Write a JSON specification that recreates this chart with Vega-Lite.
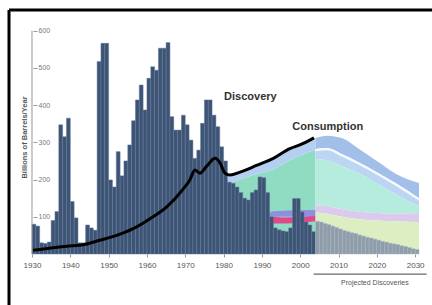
{
  "$schema": "https://vega.github.io/schema/vega-lite/v6.json",
  "width": 423,
  "height": 295,
  "autosize": {"type": "none"},
  "padding": {"left": 9, "top": 10, "right": 0, "bottom": 0},
  "background": "white",
  "config": {
    "view": {"stroke": null},
    "font": "Liberation Sans",
    "scale": {"continuousPadding": 0},
    "axis": {"domain": false, "grid": false},
    "axisX": {"domain": false, "grid": false},
    "axisY": {"domain": false, "grid": false}
  },
  "datasets": {
    "bands": [
      {"year": 1980.5, "band": "hist_green", "lo": 0, "hi": 200},
      {"year": 1981, "band": "hist_green", "lo": 0, "hi": 190},
      {"year": 1984, "band": "hist_green", "lo": 0, "hi": 199},
      {"year": 1988, "band": "hist_green", "lo": 0, "hi": 213},
      {"year": 1993, "band": "hist_green", "lo": 0, "hi": 228},
      {"year": 1997, "band": "hist_green", "lo": 0, "hi": 250},
      {"year": 2000, "band": "hist_green", "lo": 0, "hi": 264},
      {"year": 2004, "band": "hist_green", "lo": 0, "hi": 280},
      {"year": 1980.5, "band": "hist_pale", "lo": 200, "hi": 216},
      {"year": 1981, "band": "hist_pale", "lo": 190, "hi": 214},
      {"year": 1984, "band": "hist_pale", "lo": 199, "hi": 220},
      {"year": 1988, "band": "hist_pale", "lo": 213, "hi": 236},
      {"year": 1993, "band": "hist_pale", "lo": 228, "hi": 257},
      {"year": 1997, "band": "hist_pale", "lo": 250, "hi": 282},
      {"year": 2000, "band": "hist_pale", "lo": 264, "hi": 294},
      {"year": 2004, "band": "hist_pale", "lo": 280, "hi": 312},
      {"year": 1990.5, "band": "hist_pink", "lo": 85, "hi": 85},
      {"year": 1992, "band": "hist_pink", "lo": 82, "hi": 100},
      {"year": 1996, "band": "hist_pink", "lo": 82, "hi": 98},
      {"year": 2000, "band": "hist_pink", "lo": 84, "hi": 100},
      {"year": 2004, "band": "hist_pink", "lo": 88, "hi": 102},
      {"year": 1991, "band": "hist_violet", "lo": 100, "hi": 100},
      {"year": 1993, "band": "hist_violet", "lo": 100, "hi": 115},
      {"year": 2004, "band": "hist_violet", "lo": 102, "hi": 118},
      {"year": 2004, "band": "p1", "lo": 282, "hi": 312},
      {"year": 2007, "band": "p1", "lo": 285, "hi": 318},
      {"year": 2011, "band": "p1", "lo": 268, "hi": 311},
      {"year": 2015, "band": "p1", "lo": 248, "hi": 285},
      {"year": 2020, "band": "p1", "lo": 220, "hi": 250},
      {"year": 2025, "band": "p1", "lo": 190, "hi": 215},
      {"year": 2031, "band": "p1", "lo": 150, "hi": 191},
      {"year": 2004, "band": "p2", "lo": 276, "hi": 282},
      {"year": 2007, "band": "p2", "lo": 279, "hi": 285},
      {"year": 2011, "band": "p2", "lo": 261, "hi": 268},
      {"year": 2015, "band": "p2", "lo": 241, "hi": 248},
      {"year": 2020, "band": "p2", "lo": 213, "hi": 220},
      {"year": 2025, "band": "p2", "lo": 183, "hi": 190},
      {"year": 2031, "band": "p2", "lo": 143, "hi": 150},
      {"year": 2004, "band": "p3", "lo": 255, "hi": 276},
      {"year": 2007, "band": "p3", "lo": 252, "hi": 279},
      {"year": 2011, "band": "p3", "lo": 236, "hi": 261},
      {"year": 2015, "band": "p3", "lo": 218, "hi": 241},
      {"year": 2020, "band": "p3", "lo": 190, "hi": 213},
      {"year": 2025, "band": "p3", "lo": 160, "hi": 183},
      {"year": 2031, "band": "p3", "lo": 128, "hi": 143},
      {"year": 2004, "band": "p4", "lo": 132, "hi": 255},
      {"year": 2007, "band": "p4", "lo": 128, "hi": 252},
      {"year": 2011, "band": "p4", "lo": 120, "hi": 236},
      {"year": 2015, "band": "p4", "lo": 114, "hi": 218},
      {"year": 2020, "band": "p4", "lo": 110, "hi": 190},
      {"year": 2025, "band": "p4", "lo": 108, "hi": 160},
      {"year": 2031, "band": "p4", "lo": 110, "hi": 128},
      {"year": 2004, "band": "p5", "lo": 112, "hi": 132},
      {"year": 2007, "band": "p5", "lo": 108, "hi": 128},
      {"year": 2011, "band": "p5", "lo": 100, "hi": 120},
      {"year": 2015, "band": "p5", "lo": 94, "hi": 114},
      {"year": 2020, "band": "p5", "lo": 90, "hi": 110},
      {"year": 2025, "band": "p5", "lo": 88, "hi": 108},
      {"year": 2031, "band": "p5", "lo": 86, "hi": 110},
      {"year": 2004, "band": "p6", "lo": 0, "hi": 112},
      {"year": 2007, "band": "p6", "lo": 0, "hi": 108},
      {"year": 2011, "band": "p6", "lo": 0, "hi": 100},
      {"year": 2015, "band": "p6", "lo": 0, "hi": 94},
      {"year": 2020, "band": "p6", "lo": 0, "hi": 90},
      {"year": 2025, "band": "p6", "lo": 0, "hi": 88},
      {"year": 2031, "band": "p6", "lo": 0, "hi": 86}
    ],
    "discovery": [
      {"year": 1930, "value": 80}, {"year": 1931, "value": 75}, {"year": 1932, "value": 30},
      {"year": 1933, "value": 28}, {"year": 1934, "value": 32}, {"year": 1935, "value": 90},
      {"year": 1936, "value": 114}, {"year": 1937, "value": 347}, {"year": 1938, "value": 315},
      {"year": 1939, "value": 365}, {"year": 1940, "value": 141}, {"year": 1941, "value": 97},
      {"year": 1942, "value": 30}, {"year": 1943, "value": 30}, {"year": 1944, "value": 78},
      {"year": 1945, "value": 70}, {"year": 1946, "value": 64}, {"year": 1947, "value": 517},
      {"year": 1948, "value": 566}, {"year": 1949, "value": 566}, {"year": 1950, "value": 199},
      {"year": 1951, "value": 180}, {"year": 1952, "value": 275}, {"year": 1953, "value": 210},
      {"year": 1954, "value": 250}, {"year": 1955, "value": 293}, {"year": 1956, "value": 358},
      {"year": 1957, "value": 414}, {"year": 1958, "value": 454}, {"year": 1959, "value": 387},
      {"year": 1960, "value": 472}, {"year": 1961, "value": 503}, {"year": 1962, "value": 494},
      {"year": 1963, "value": 553}, {"year": 1964, "value": 553}, {"year": 1965, "value": 568},
      {"year": 1966, "value": 369}, {"year": 1967, "value": 333}, {"year": 1968, "value": 333},
      {"year": 1969, "value": 373}, {"year": 1970, "value": 347}, {"year": 1971, "value": 306},
      {"year": 1972, "value": 257}, {"year": 1973, "value": 279}, {"year": 1974, "value": 351},
      {"year": 1975, "value": 414}, {"year": 1976, "value": 414}, {"year": 1977, "value": 373},
      {"year": 1978, "value": 342}, {"year": 1979, "value": 288}, {"year": 1980, "value": 250},
      {"year": 1981, "value": 193}, {"year": 1982, "value": 190}, {"year": 1983, "value": 180},
      {"year": 1984, "value": 165}, {"year": 1985, "value": 150}, {"year": 1986, "value": 145},
      {"year": 1987, "value": 165}, {"year": 1988, "value": 172}, {"year": 1989, "value": 207},
      {"year": 1990, "value": 205}, {"year": 1991, "value": 165}, {"year": 1992, "value": 100},
      {"year": 1993, "value": 70}, {"year": 1994, "value": 65}, {"year": 1995, "value": 62},
      {"year": 1996, "value": 60}, {"year": 1997, "value": 70}, {"year": 1998, "value": 149},
      {"year": 1999, "value": 149}, {"year": 2000, "value": 113}, {"year": 2001, "value": 86},
      {"year": 2002, "value": 78}, {"year": 2003, "value": 60}
    ],
    "projected": [
      {"year": 2004, "value": 88}, {"year": 2005, "value": 86}, {"year": 2006, "value": 82},
      {"year": 2007, "value": 79}, {"year": 2008, "value": 75}, {"year": 2009, "value": 71},
      {"year": 2010, "value": 67}, {"year": 2011, "value": 63}, {"year": 2012, "value": 60},
      {"year": 2013, "value": 57}, {"year": 2014, "value": 55}, {"year": 2015, "value": 51},
      {"year": 2016, "value": 48}, {"year": 2017, "value": 45}, {"year": 2018, "value": 43},
      {"year": 2019, "value": 40}, {"year": 2020, "value": 37}, {"year": 2021, "value": 34},
      {"year": 2022, "value": 32}, {"year": 2023, "value": 29}, {"year": 2024, "value": 27},
      {"year": 2025, "value": 25}, {"year": 2026, "value": 22}, {"year": 2027, "value": 20},
      {"year": 2028, "value": 17}, {"year": 2029, "value": 14}, {"year": 2030, "value": 12}
    ],
    "consumption": [
      {"year": 1930.3, "value": 10}, {"year": 1935, "value": 16}, {"year": 1939, "value": 21},
      {"year": 1943.4, "value": 25}, {"year": 1947.7, "value": 37}, {"year": 1952.1, "value": 50},
      {"year": 1956.4, "value": 68}, {"year": 1960.8, "value": 95}, {"year": 1965.1, "value": 126},
      {"year": 1969.5, "value": 175}, {"year": 1971.2, "value": 199}, {"year": 1972.5, "value": 226},
      {"year": 1973.8, "value": 217}, {"year": 1975.6, "value": 236}, {"year": 1977.8, "value": 257},
      {"year": 1979.1, "value": 244}, {"year": 1980.4, "value": 217}, {"year": 1981.7, "value": 212},
      {"year": 1984.3, "value": 220}, {"year": 1988.6, "value": 238}, {"year": 1993, "value": 257},
      {"year": 1997.3, "value": 283}, {"year": 1999.9, "value": 293}, {"year": 2002.9, "value": 308},
      {"year": 2003.6, "value": 312}
    ],
    "labels": [
      {"text": "Discovery", "year": 1987.0, "value": 422},
      {"text": "Consumption", "year": 2007.2, "value": 341}
    ]
  },
  "layer": [
    {
      "data": {"name": "bands"},
      "mark": {"type": "area", "interpolate": "monotone"},
      "encoding": {
        "x": {
          "field": "year", "type": "quantitative",
          "scale": {"domain": [1924, 2034.4], "nice": false, "zero": false, "padding": 0},
          "axis": {
            "orient": "bottom", "offset": -51, "domain": false, "grid": false,
            "values": [1930, 1940, 1950, 1960, 1970, 1980, 1990, 2000, 2010, 2020, 2030],
            "format": "d", "tickSize": 3, "tickColor": "#999999",
            "labelFontSize": 8, "labelColor": "#555555", "labelPadding": 4, "title": null
          }
        },
        "y": {
          "field": "hi", "type": "quantitative",
          "scale": {"domain": [-137, 655.6], "nice": false, "zero": false, "padding": 0},
          "axis": {
            "orient": "right", "offset": -399, "domain": false, "grid": false,
            "values": [100, 200, 300, 400, 500, 600],
            "tickSize": 4, "tickColor": "#999999", "labelPadding": 1,
            "labelFontSize": 7, "labelColor": "#777777",
            "title": "Billions of Barrels/Year", "titleAngle": 270, "titleX": -9, "titleY": 127,
            "titleAlign": "center", "titleBaseline": "middle",
            "titleFontSize": 7.5, "titleColor": "#555555", "titleFontWeight": "bold"
          }
        },
        "y2": {"field": "lo"},
        "color": {
          "field": "band", "type": "nominal", "legend": null,
          "scale": {
            "domain": ["hist_green", "hist_pale", "hist_pink", "hist_violet", "p1", "p2", "p3", "p4", "p5", "p6"],
            "range": ["#8fdcc2", "#b4d0f0", "#e0488a", "#8f8fe0", "#a2bfea", "#f5f8fc", "#bbd5f2", "#b6ecde", "#dccaee", "#ddeec2"]
          }
        }
      }
    },
    {
      "data": {"name": "discovery"},
      "mark": {"type": "bar", "width": 3.83, "xOffset": 1.92, "color": "#3d5474", "stroke": "#62789a", "strokeWidth": 0.5},
      "encoding": {
        "x": {"field": "year", "type": "quantitative"},
        "y": {"field": "value", "type": "quantitative"},
        "y2": {"datum": 0}
      }
    },
    {
      "data": {"name": "projected"},
      "mark": {"type": "bar", "width": 3.83, "xOffset": 1.92, "color": "#8f9dab", "stroke": "#a9b5c0", "strokeWidth": 0.5},
      "encoding": {
        "x": {"field": "year", "type": "quantitative"},
        "y": {"field": "value", "type": "quantitative"},
        "y2": {"datum": 0}
      }
    },
    {
      "data": {"name": "consumption"},
      "mark": {"type": "line", "color": "black", "strokeWidth": 3, "interpolate": "monotone"},
      "encoding": {
        "x": {"field": "year", "type": "quantitative"},
        "y": {"field": "value", "type": "quantitative"}
      }
    },
    {
      "data": {"name": "labels"},
      "mark": {"type": "text", "fontSize": 11, "fontWeight": "bold", "color": "#333333", "align": "center", "baseline": "middle"},
      "encoding": {
        "x": {"field": "year", "type": "quantitative"},
        "y": {"field": "value", "type": "quantitative"},
        "text": {"field": "text"}
      }
    },
    {
      "data": {"values": [{"text": "Projected Discoveries"}]},
      "mark": {"type": "text", "fontSize": 7, "color": "#555555", "align": "center", "baseline": "middle"},
      "encoding": {
        "x": {"datum": 2019.5},
        "y": {"datum": -78},
        "text": {"field": "text"}
      }
    },
    {
      "data": {"values": [{}]},
      "mark": {"type": "rule", "color": "#444444", "strokeWidth": 1},
      "encoding": {
        "x": {"datum": 2003.5}, "x2": {"datum": 2033},
        "y": {"datum": -54}
      }
    },
    {
      "data": {"values": [{}]},
      "mark": {"type": "rule", "color": "#999999", "strokeWidth": 1},
      "encoding": {
        "x": {"datum": 1930},
        "y": {"datum": 0}, "y2": {"datum": 600}
      }
    },
    {
      "data": {"values": [{}]},
      "mark": {"type": "rule", "color": "black", "strokeWidth": 3},
      "encoding": {
        "x": {"datum": 1924}, "x2": {"datum": 2034.4},
        "y": {"datum": 655.6}
      }
    },
    {
      "data": {"values": [{}]},
      "mark": {"type": "rule", "color": "black", "strokeWidth": 3},
      "encoding": {
        "x": {"datum": 1924},
        "y": {"datum": -137}, "y2": {"datum": 655.6}
      }
    }
  ]
}
